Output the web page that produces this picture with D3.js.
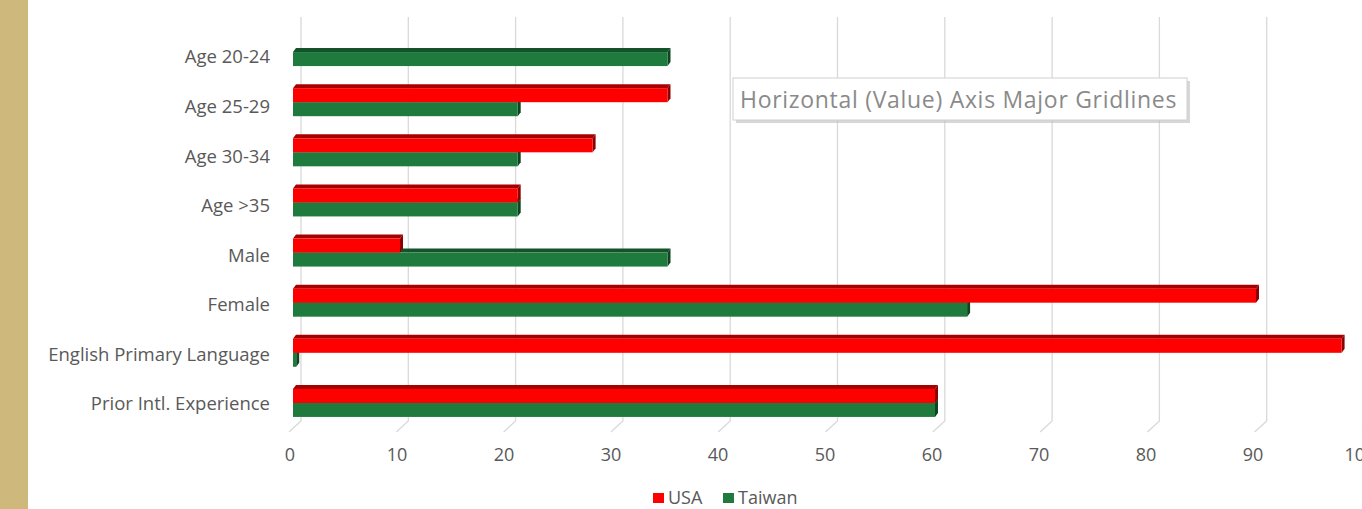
<!DOCTYPE html>
<html lang="en">
<head>
    <meta charset="UTF-8">
    <title>USA vs Taiwan</title>
    <script src="https://d3js.org/d3.v7.min.js"></script>
    <style>
        body { margin: 0; background: #fff; overflow: hidden; }
        svg { display: block; }
    </style>
</head>
<body>
    <div id="chart"></div>

    <script>
        // chart data
        const categories = ["Age 20-24", "Age 25-29", "Age 30-34", "Age >35", "Male", "Female", "English Primary Language", "Prior Intl. Experience"];
        const usaValues = [0, 35, 28, 21, 10, 90, 98, 60];
        const taiwanValues = [35, 21, 21, 21, 35, 63, 0.3, 60];
        const seriesNames = ["USA", "Taiwan"];
        const tickValues = [0, 10, 20, 30, 40, 50, 60, 70, 80, 90, 100];
        const tooltipText = "Horizontal (Value) Axis Major Gridlines";

        const width = 1362, height = 509;
        const colors = {
            USA: { front: "#fe0000", top: "#a80000", side: "#8e0000" },
            Taiwan: { front: "#1f7b3d", top: "#145229", side: "#0f4421" }
        };
        const depthX = 3, depthY = 4;
        const font = "'Open Sans', sans-serif";

        const svg = d3.select("#chart")
            .append("svg")
            .attr("width", width)
            .attr("height", height)
            .style("font-family", font);

        // beige strip on the left
        svg.append("rect")
            .attr("x", 0).attr("y", 0)
            .attr("width", 28).attr("height", height)
            .attr("fill", "#cfb87c");

        // scales: front plane for bars, back wall for gridlines
        const xFront = d3.scaleLinear().domain([0, 100]).range([293, 1363]);
        const xBack = d3.scaleLinear().domain([0, 100]).range([301, 1374]);
        const xTick = d3.scaleLinear().domain([0, 100]).range([290, 1360]);
        const y = d3.scaleBand().domain(categories).range([27, 428]).padding(0);
        const ySeries = d3.scaleBand().domain(seriesNames).range([0, 28]);
        const yLabel = d3.scalePoint().domain(categories).range([57, 404]);

        // gridlines on the back wall + floor edge
        const grid = svg.append("g");
        grid.selectAll("path")
            .data(tickValues)
            .enter()
            .append("path")
            .attr("d", d => `M${xBack(d)},17 V421 L${xBack(d) - 12},432`)
            .attr("fill", "none")
            .attr("stroke", "#d9d9d9")
            .attr("stroke-width", 1.3);

        // tick labels
        svg.append("g")
            .selectAll("text")
            .data(tickValues)
            .enter()
            .append("text")
            .attr("x", d => xTick(d))
            .attr("y", 461)
            .attr("text-anchor", "middle")
            .attr("font-size", "18px")
            .attr("fill", "#595959")
            .text(d => d);

        // category labels
        svg.append("g")
            .selectAll("text")
            .data(categories)
            .enter()
            .append("text")
            .attr("x", 270)
            .attr("y", d => yLabel(d))
            .attr("dy", "0.35em")
            .attr("text-anchor", "end")
            .attr("font-size", "18.5px")
            .attr("fill", "#595959")
            .text(d => d);

        // 3d bars, Taiwan first so the USA face hides its top
        const bars = [];
        ["Taiwan", "USA"].forEach(s => {
            const vals = s === "USA" ? usaValues : taiwanValues;
            categories.forEach((c, i) => {
                if (vals[i] > 0) bars.push({ series: s, cat: c, value: vals[i] });
            });
        });

        const h = ySeries.bandwidth();
        const barG = svg.append("g")
            .selectAll("g")
            .data(bars)
            .enter()
            .append("g");

        function geom(d) {
            const x0 = xFront(0), x1 = xFront(d.value);
            const y0 = y(d.cat) + y.bandwidth() / 2 - h + ySeries(d.series);
            return { x0, x1, y0 };
        }

        // top face
        barG.append("path")
            .attr("d", d => {
                const g = geom(d);
                return `M${g.x0},${g.y0} L${g.x0 + depthX},${g.y0 - depthY} L${g.x1 + depthX},${g.y0 - depthY} L${g.x1},${g.y0} Z`;
            })
            .attr("fill", d => colors[d.series].top);

        // end cap
        barG.append("path")
            .attr("d", d => {
                const g = geom(d);
                return `M${g.x1},${g.y0} L${g.x1 + depthX},${g.y0 - depthY} L${g.x1 + depthX},${g.y0 - depthY + h} L${g.x1},${g.y0 + h} Z`;
            })
            .attr("fill", d => colors[d.series].side);

        // front face
        barG.append("rect")
            .attr("x", d => geom(d).x0)
            .attr("y", d => geom(d).y0)
            .attr("width", d => geom(d).x1 - geom(d).x0)
            .attr("height", h)
            .attr("fill", d => colors[d.series].front);

        // tooltip box
        const tip = svg.append("g");
        tip.append("rect")
            .attr("x", 736).attr("y", 81)
            .attr("width", 454).attr("height", 42)
            .attr("fill", "#bdbdbd")
            .attr("opacity", 0.6);
        tip.append("rect")
            .attr("x", 733).attr("y", 78)
            .attr("width", 454).attr("height", 42)
            .attr("fill", "#fff")
            .attr("stroke", "#d0d0d0");
        tip.append("text")
            .attr("x", 740)
            .attr("y", 108)
            .attr("font-size", "23px")
            .attr("letter-spacing", "0.7px")
            .attr("fill", "#8a8a8a")
            .text(tooltipText);

        // legend
        const legend = svg.append("g")
            .selectAll("g")
            .data(seriesNames)
            .enter()
            .append("g")
            .attr("transform", (d, i) => `translate(${i === 0 ? 653 : 723}, 493)`);

        legend.append("rect")
            .attr("width", 11)
            .attr("height", 10)
            .attr("fill", d => colors[d].front);

        legend.append("text")
            .attr("x", 15)
            .attr("y", 5)
            .attr("dy", "0.35em")
            .attr("font-size", "18px")
            .attr("fill", "#595959")
            .text(d => d);
    </script>
</body>
</html>
